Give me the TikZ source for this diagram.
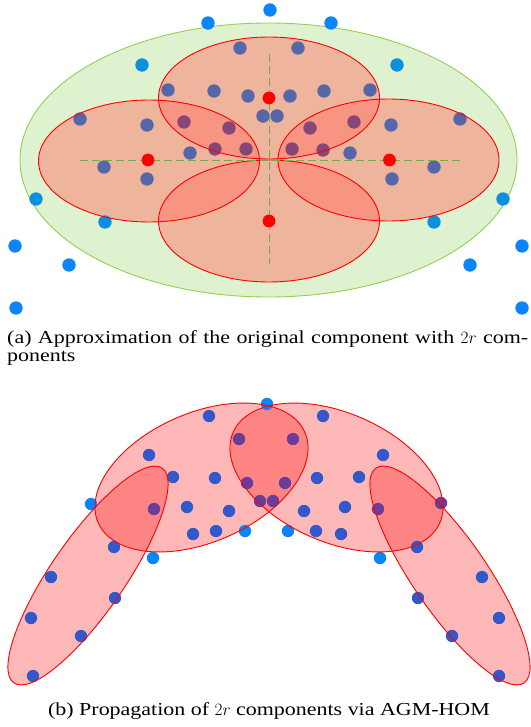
\documentclass[tikz,border=0pt]{standalone}
\usepackage{fontspec}
\setmainfont[FakeStretch=1.2]{Liberation Serif}
\definecolor{ptout}{HTML}{0A84FF}
\definecolor{ptgreen}{HTML}{0B90E0}
\definecolor{ptred}{HTML}{5567A9}
\definecolor{ptdouble}{HTML}{864678}
\definecolor{ptredb}{HTML}{3358CC}
\definecolor{ptdoubleb}{HTML}{6A3D9A}
\definecolor{compgreen}{HTML}{92D050}
\definecolor{compfill}{HTML}{DFF2D0}
\definecolor{axisgreen}{HTML}{70AD47}
\definecolor{salmon}{RGB}{255,120,105}
\tikzset{
    % Component styles
    comp/.style={draw=compgreen, fill=compfill, line width=0.9pt},
    sub fill/.style={fill=salmon, fill opacity=0.5},
    prop fill/.style={fill=red, fill opacity=0.28},
    sub line/.style={draw=red, line width=0.9pt},
    % Axis and centre styles
    axis line/.style={axisgreen, line width=0.9pt, dash pattern=on 8pt off 4pt},
    centre/.style={fill=red},
    % Caption style
    caption/.style={font=\fontsize{18.3}{17.4}\selectfont, inner sep=0pt},
}

\begin{document}
\begin{tikzpicture}[x=1pt, y=-1pt]
    \useasboundingbox (0,0) rectangle (530,727);

    % (a) Original component
    \draw[comp] (268.5,160) ellipse[x radius=248.5, y radius=137];

    % Approximating components
    \foreach \cx/\cy in {269/98, 269/221, 149/161, 388.5/160}
        \path[sub fill] (\cx,\cy) ellipse[x radius=110.5, y radius=61];

    % Samples
    \foreach \x/\y in {270/10, 208/23, 331/23, 15/246, 522/246, 69/265, 470/265, 16/308, 522/308}
        \fill[ptout] (\x,\y) circle[radius=6.7];
    \foreach \x/\y in {142/65, 397/65, 36/199, 503/199, 105/222, 434/222}
        \fill[ptgreen] (\x,\y) circle[radius=6.7];
    \foreach \x/\y in {240/48, 298/48, 168/90, 214/91, 248/96, 290/96, 324/91, 370/90,
                       263/116, 277/116, 80/119, 147/125, 391/125, 460/119, 190/153,
                       350/153, 104/167, 434/167, 147/179, 392/179}
        \fill[ptred] (\x,\y) circle[radius=6.7];
    \foreach \x/\y in {184/122, 229/128, 310/128, 354/122, 215/149, 246/149, 292/149, 323/150}
        \fill[ptdouble] (\x,\y) circle[radius=6.7];

    \foreach \cx/\cy in {269/98, 269/221, 149/161, 388.5/160}
        \draw[sub line] (\cx,\cy) ellipse[x radius=110.5, y radius=61];

    % Axes through the centres
    \coordinate (hl) at (80,160);
    \coordinate (hr) at (460,160);
    \coordinate (vt) at (269,54);
    \coordinate (vb) at (269,264);
    \draw[axis line] (hl) -- (hr);
    \draw[axis line] (vt) -- (vb);

    \coordinate (ctop) at (269,98);
    \coordinate (cbot) at (269,221);
    \coordinate (cleft) at (148,160);
    \coordinate (cright) at (389.5,160);
    \foreach \c in {ctop, cbot, cleft, cright}
        \fill[centre] (\c) circle[radius=6.4];

    \node[caption, anchor=north west, text width=521pt, align=justify] (capa) at (7,330.6)
        {(a) Approximation of the original component with $2r$ com-\linebreak ponents};

    % (b) Propagated components
    \foreach \cx/\cy/\a/\rx/\ry in {201.5/477.5/23.6/112.8/64.6, 336.5/477.5/-23.6/112.8/64.6,
                                    88/575.5/55.4/130.5/36.9, 450/575.5/-55.4/130.5/36.9}
        \path[prop fill, rotate around={\a:(\cx,\cy)}] (\cx,\cy) ellipse[x radius=\rx, y radius=\ry];

    \foreach \x/\y in {267/404, 91/504, 245/531, 153/558, 288/531, 380/558}
        \fill[ptout] (\x,\y) circle[radius=6.2];
    \foreach \x/\y in {209/416, 149/455, 173/477, 215/478, 187/507, 229/511, 193/534, 216/531,
                       114/547, 51/577, 115/598, 31/618, 81/636, 33/676,
                       323/416, 383/455, 317/478, 359/477, 304/511, 345/507, 316/531, 341/534,
                       417/547, 482/577, 418/598, 499/618, 452/636, 499/676}
        \fill[ptredb] (\x,\y) circle[radius=6.2];
    \foreach \x/\y in {239/439, 247/483, 260/501, 273/501, 154/509, 293/439, 285/483, 378/509, 441/503}
        \fill[ptdoubleb] (\x,\y) circle[radius=6.2];

    \foreach \cx/\cy/\a/\rx/\ry in {201.5/477.5/23.6/112.8/64.6, 336.5/477.5/-23.6/112.8/64.6,
                                    88/575.5/55.4/130.5/36.9, 450/575.5/-55.4/130.5/36.9}
        \draw[sub line, rotate around={\a:(\cx,\cy)}] (\cx,\cy) ellipse[x radius=\rx, y radius=\ry];

    \node[caption, anchor=base] (capb) at (269,715.5)
        {(b) Propagation of $2r$ components via AGM-HOM};
\end{tikzpicture}
\end{document}
